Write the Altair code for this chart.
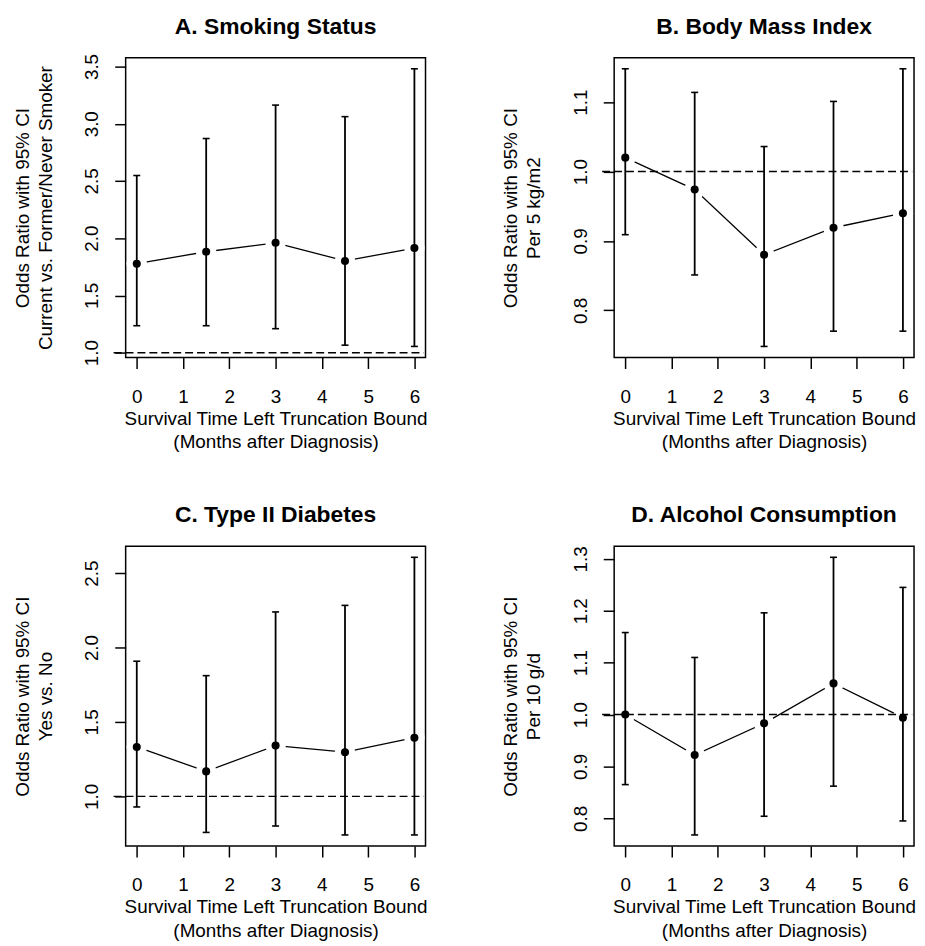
import altair as alt
import pandas as pd

# ---------------- data ----------------
months = [0, 1.5, 3, 4.5, 6]
x_ticks = [0, 1, 2, 3, 4, 5, 6]

smk_or = [1.778, 1.882, 1.960, 1.802, 1.914]
smk_lo = [1.236, 1.236, 1.210, 1.066, 1.055]
smk_hi = [2.548, 2.871, 3.163, 3.062, 3.480]
smk_ticks = [1.0, 1.5, 2.0, 2.5, 3.0, 3.5]

bmi_or = [1.020, 0.974, 0.880, 0.919, 0.940]
bmi_lo = [0.909, 0.851, 0.748, 0.770, 0.770]
bmi_hi = [1.148, 1.114, 1.036, 1.101, 1.148]
bmi_ticks = [0.8, 0.9, 1.0, 1.1]

dm_or = [1.332, 1.168, 1.341, 1.297, 1.394]
dm_lo = [0.929, 0.758, 0.801, 0.741, 0.741]
dm_hi = [1.908, 1.811, 2.239, 2.283, 2.606]
dm_ticks = [1.0, 1.5, 2.0, 2.5]

alc_or = [1.000, 0.922, 0.983, 1.060, 0.994]
alc_lo = [0.865, 0.768, 0.804, 0.862, 0.795]
alc_hi = [1.158, 1.110, 1.196, 1.303, 1.245]
alc_ticks = [0.8, 0.9, 1.0, 1.1, 1.2, 1.3]

titles = ["A. Smoking Status", "B. Body Mass Index",
          "C. Type II Diabetes", "D. Alcohol Consumption"]
y_titles = [["Odds Ratio with 95% CI", "Current vs. Former/Never Smoker"],
            ["Odds Ratio with 95% CI", "Per 5 kg/m2"],
            ["Odds Ratio with 95% CI", "Yes vs. No"],
            ["Odds Ratio with 95% CI", "Per 10 g/d"]]
x_title = ["Survival Time Left Truncation Bound", "(Months after Diagnosis)"]
ref_value = 1.0
ref_span = [-0.5, 6.2]

# ---------------- styling ----------------
W = 302
H = 302
FONT = "Liberation Sans"
FS = 19


def panel(title, ytitle, est, lo, hi, yticks):
    df = pd.DataFrame({"m": months, "est": est, "lo": lo, "hi": hi})
    ypad = 0.04 * (max(hi) - min(lo))
    ydom = [min(lo) - ypad, max(hi) + ypad]
    xpad = 0.04 * (max(x_ticks) - min(x_ticks))
    xdom = [min(x_ticks) - xpad, max(x_ticks) + xpad]
    xs = alt.Scale(domain=xdom, nice=False, zero=False)
    ys = alt.Scale(domain=ydom, nice=False, zero=False)
    xax = alt.Axis(values=x_ticks, format="d", title=x_title, grid=False,
                   domain=False, tickSize=11, labelPadding=19,
                   labelBaseline="top", labelAngle=0,
                   titleX=W / 2, titleY=61, titleBaseline="middle",
                   titleAlign="center", titleLineHeight=24)
    yax = alt.Axis(values=yticks, format=".1f", title=ytitle, grid=False,
                   domain=False, tickSize=11, labelPadding=23,
                   labelAngle=270, labelAlign="center", labelBaseline="middle",
                   labelOverlap=False,
                   titleAngle=270, titleX=-104, titleY=H / 2,
                   titleBaseline="middle", titleAlign="center",
                   titleLineHeight=23)
    X = alt.X("m:Q", scale=xs, axis=xax)
    base = alt.Chart(df)
    line = base.mark_line(color="black", strokeWidth=1.3).encode(
        x=X, y=alt.Y("est:Q", scale=ys, axis=yax))
    halo = base.mark_point(shape="circle", filled=True, fill="white",
                           stroke="white", strokeWidth=0, opacity=1,
                           fillOpacity=1, size=430).encode(
        x=X, y=alt.Y("est:Q", scale=ys, axis=yax))
    ref_df = pd.DataFrame({"x0": [ref_span[0]], "x1": [ref_span[1]],
                           "y": [ref_value]})
    ref = alt.Chart(ref_df).mark_rule(
        color="black", strokeDash=[8, 4], strokeWidth=1.4).encode(
        x=alt.X("x0:Q", scale=xs, axis=xax), x2="x1:Q",
        y=alt.Y("y:Q", scale=ys, axis=yax))
    bars = base.mark_rule(color="black", strokeWidth=1.8).encode(
        x=X, y=alt.Y("lo:Q", scale=ys, axis=yax), y2="hi:Q")
    cap_lo = base.mark_tick(orient="horizontal", color="black", size=7,
                            thickness=1.6, opacity=1).encode(
        x=X, y=alt.Y("lo:Q", scale=ys, axis=yax))
    cap_hi = base.mark_tick(orient="horizontal", color="black", size=7,
                            thickness=1.6, opacity=1).encode(
        x=X, y=alt.Y("hi:Q", scale=ys, axis=yax))
    pts = base.mark_circle(color="black", opacity=1, size=66).encode(
        x=X, y=alt.Y("est:Q", scale=ys, axis=yax))
    head = alt.Chart(pd.DataFrame({"t": [title]})).mark_text(
        font=FONT, fontSize=23, fontWeight="bold", color="black",
        align="center", baseline="alphabetic").encode(
        x=alt.value(W / 2), y=alt.value(-24), text="t:N")
    return alt.layer(line, halo, ref, bars, cap_lo, cap_hi, pts, head).properties(
        width=W, height=H)


pA = panel(titles[0], y_titles[0], smk_or, smk_lo, smk_hi, smk_ticks)
pB = panel(titles[1], y_titles[1], bmi_or, bmi_lo, bmi_hi, bmi_ticks)
pC = panel(titles[2], y_titles[2], dm_or, dm_lo, dm_hi, dm_ticks)
pD = panel(titles[3], y_titles[3], alc_or, alc_lo, alc_hi, alc_ticks)

chart = alt.concat(pA, pB, pC, pD, columns=2, spacing=190, bounds="flush").properties(
    padding={"left": 4.5, "top": 3.7, "right": 0, "bottom": 0}
).configure_view(
    stroke="black", strokeWidth=1.5
).configure_axis(
    labelFont=FONT, labelFontSize=FS, labelColor="black",
    titleFont=FONT, titleFontSize=FS, titleColor="black",
    titleFontWeight="normal", tickColor="black", tickWidth=1.5
)

chart.save("out.html", embed_options={"renderer": "svg", "actions": False})
